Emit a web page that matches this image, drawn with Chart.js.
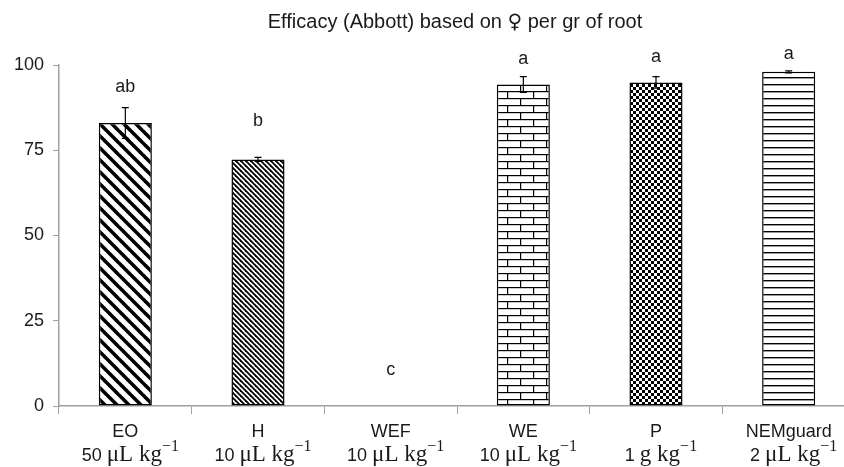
<!DOCTYPE html>
<html>
<head>
<meta charset="utf-8">
<script src="https://cdn.jsdelivr.net/npm/chart.js@4"></script>
<style>
  html, body { margin: 0; padding: 0; background: #fff; overflow: hidden; }
  canvas { display: block; }
</style>
</head>
<body>
<canvas id="c" width="856" height="467" style="width:856px;height:467px"></canvas>
<script>
const names    = ['EO', 'H', 'WEF', 'WE', 'P', 'NEMguard'];
const doses    = ['50', '10', '10', '10', '1', '2'];
const units    = ['\u03BCL kg', '\u03BCL kg', '\u03BCL kg', '\u03BCL kg', 'g kg', '\u03BCL kg'];
const efficacy = [83.0, 72.3, 0, 94.3, 94.9, 98.0];
const errs     = [4.5, 0.6, 0, 2.3, 1.7, 0.3];
const letters  = ['ab', 'b', 'c', 'a', 'a', 'a'];
const letterAt = [93.4, 83.5, 10.5, 101.7, 102.3, 103.2];
const yTicks   = [0, 25, 50, 75, 100];
const titleParts = ['Efficacy (Abbott) based on ', '\u2640', ' per gr of root'];

const sans  = '"Liberation Sans", Arial, sans-serif';
const serif = '"Liberation Serif", "Times New Roman", serif';
const axisGrey = '#a0a0a0';
const ink = '#1a1a1a';

/* ─── Fill patterns ─────────────────────────────────────────────────────── */

function tile(w, h, draw) {
    const t = document.createElement('canvas');
    t.width = w; t.height = h;
    const g = t.getContext('2d');
    g.fillStyle = '#fff';
    g.fillRect(0, 0, w, h);
    g.fillStyle = '#000';
    g.strokeStyle = '#000';
    draw(g, w, h);
    return document.getElementById('c').getContext('2d').createPattern(t, 'repeat');
}

function stripes(s, lw) {
    return tile(s, s, (g) => {
        g.lineWidth = lw;
        for (const o of [-s, 0, s]) {
            g.beginPath(); g.moveTo(o - 1, -1); g.lineTo(o + s + 1, s + 1); g.stroke();
        }
    });
}

const fills = [
    stripes(12, 3.6),
    stripes(5, 1.8),
    '#fff',
    tile(26, 14, (g) => {
        g.fillRect(0, 0, 26, 1.2);
        g.fillRect(0, 7, 26, 1.2);
        g.fillRect(0, 0, 1.2, 7);
        g.fillRect(13, 7, 1.2, 7);
    }),
    tile(6, 6, (g) => {
        g.fillRect(0, 0, 3, 3);
        g.fillRect(3, 3, 3, 3);
    }),
    tile(4, 7, (g) => { g.fillRect(0, 0, 4, 1.4); })
];

/* ─── Plugins: title, error bars, letters, two-line labels ──────────────── */

const extras = {
    id: 'extras',
    afterDatasetsDraw(chart) {
        const { ctx, scales: { x, y } } = chart;
        ctx.save();
        // error bars
        ctx.strokeStyle = '#000';
        ctx.lineWidth = 1.2;
        efficacy.forEach((v, i) => {
            if (!errs[i]) return;
            const cx = x.getPixelForValue(i);
            const t = y.getPixelForValue(v + errs[i]);
            const b = y.getPixelForValue(v - errs[i]);
            ctx.beginPath();
            ctx.moveTo(cx, t); ctx.lineTo(cx, b);
            ctx.moveTo(cx - 3.5, t); ctx.lineTo(cx + 3.5, t);
            ctx.moveTo(cx - 3.5, b); ctx.lineTo(cx + 3.5, b);
            ctx.stroke();
        });
        // significance letters
        ctx.fillStyle = ink;
        ctx.font = '18px ' + sans;
        ctx.textAlign = 'center';
        ctx.textBaseline = 'middle';
        letters.forEach((l, i) => {
            ctx.fillText(l, x.getPixelForValue(i), y.getPixelForValue(letterAt[i]));
        });
        // title, the female sign in DejaVu so it keeps its size
        const tFonts = ['20px ' + sans, '20px "DejaVu Sans", sans-serif', '20px ' + sans];
        const tW = titleParts.map((s, i) => { ctx.font = tFonts[i]; return ctx.measureText(s).width; });
        let tx = 455 - tW.reduce((a, b) => a + b, 0) / 2;
        ctx.textAlign = 'left';
        ctx.textBaseline = 'alphabetic';
        titleParts.forEach((s, i) => {
            ctx.font = tFonts[i];
            ctx.fillText(s, tx, 28);
            tx += tW[i];
        });
        // category labels
        names.forEach((n, i) => {
            const cx = x.getPixelForValue(i);
            ctx.font = '18px ' + sans;
            ctx.textAlign = 'center';
            ctx.fillText(n, cx, 437);
            const a = doses[i] + ' ';
            ctx.font = '18px ' + sans;
            const wa = ctx.measureText(a).width;
            ctx.font = '23px ' + serif;
            const wb = ctx.measureText(units[i]).width;
            ctx.font = '16px ' + serif;
            const wc = ctx.measureText('\u22121').width;
            let px = cx + 5 - (wa + wb + wc) / 2;
            ctx.textAlign = 'left';
            ctx.font = '18px ' + sans;
            ctx.fillText(a, px, 461);
            px += wa;
            ctx.font = '23px ' + serif;
            ctx.fillText(units[i], px, 461);
            px += wb;
            ctx.font = '16px ' + serif;
            ctx.fillText('\u22121', px, 451);
        });
        ctx.restore();
    }
};

/* ─── Chart ─────────────────────────────────────────────────────────────── */

new Chart(document.getElementById('c'), {
    type: 'bar',
    data: {
        labels: names,
        datasets: [{
            data: efficacy,
            backgroundColor: fills,
            borderColor: '#000',
            borderWidth: 1.5,
            borderSkipped: false,
            barPercentage: 0.4,
            categoryPercentage: 1
        }]
    },
    options: {
        responsive: false,
        animation: false,
        layout: { padding: { top: 65, right: 1, left: 0, bottom: 0 } },
        plugins: { legend: { display: false }, tooltip: { enabled: false }, title: { display: false } },
        scales: {
            x: {
                grid: { display: true, drawOnChartArea: false, offset: true, color: axisGrey, tickLength: 8 },
                border: { color: axisGrey, width: 1.5 },
                ticks: { callback: () => '' },
                afterFit: (s) => { s.height = 61; }
            },
            y: {
                min: 0,
                max: 100,
                afterBuildTicks: (s) => { s.ticks = yTicks.map(v => ({ value: v })); },
                grid: { drawOnChartArea: false, color: axisGrey, tickLength: 6 },
                border: { color: axisGrey, width: 1.5 },
                ticks: { color: ink, font: { family: sans, size: 18 }, padding: 9 },
                afterFit: (s) => { s.width = 59; }
            }
        }
    },
    plugins: [extras]
});
</script>
</body>
</html>
